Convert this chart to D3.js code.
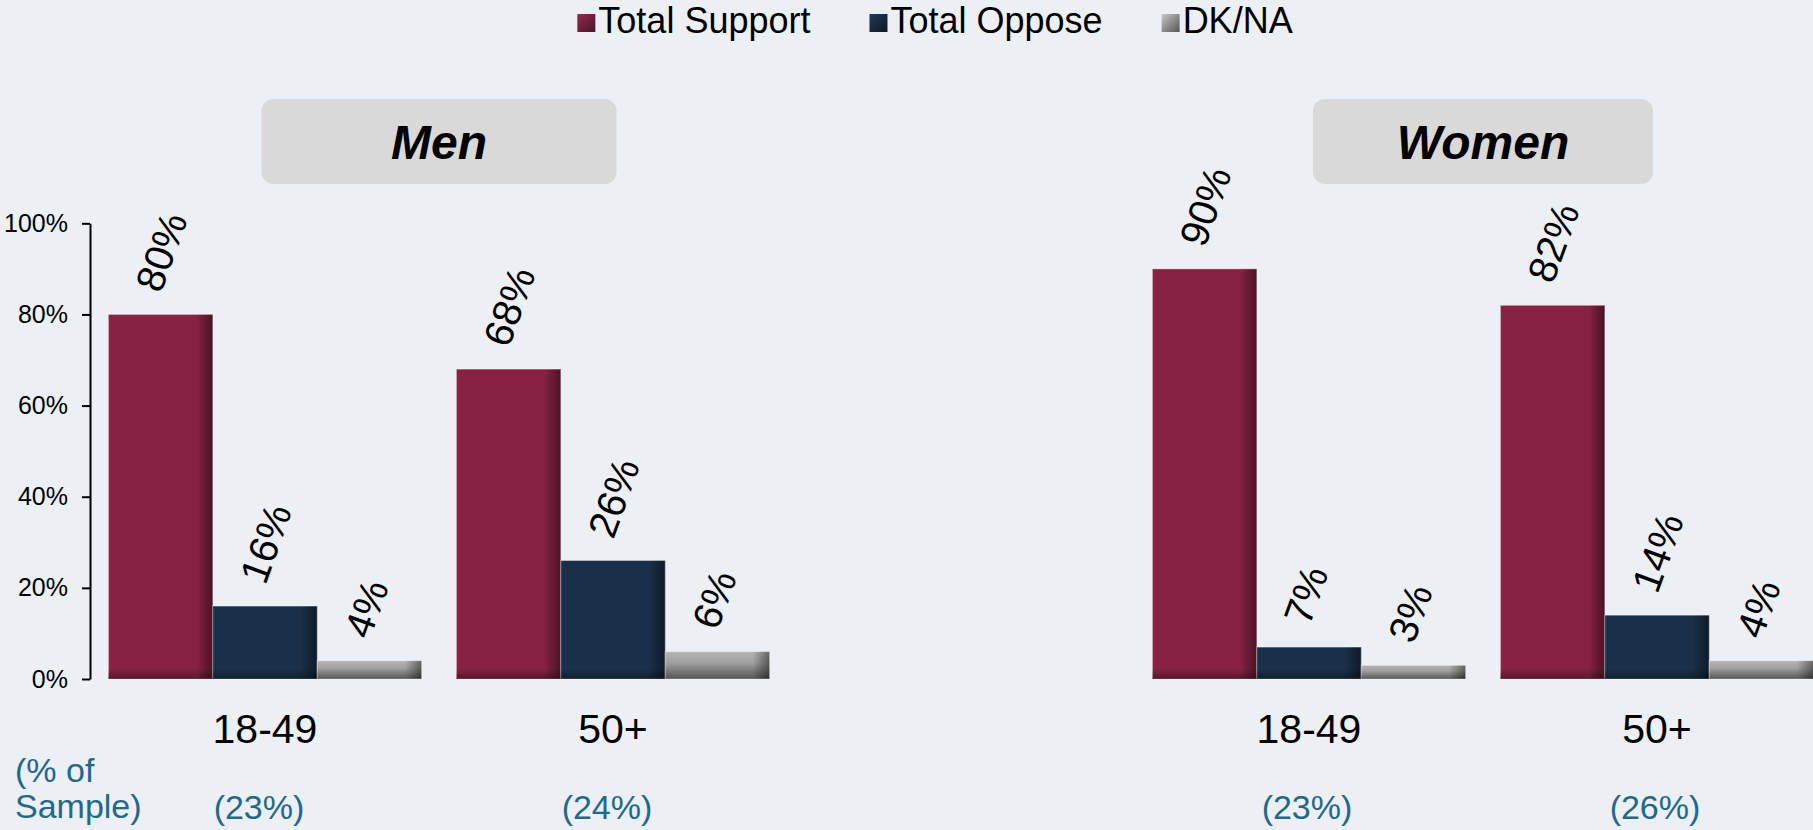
<!DOCTYPE html>
<meta charset="utf-8">
<script src="https://d3js.org/d3.v7.min.js"></script>
<style>
  body { margin: 0; background: #eceff4; }
  svg { display: block; font-family: "Liberation Sans", Arial, sans-serif; }
</style>
<body>
<div id="my_dataviz"></div>
<script>

// set the dimensions of the graph
var width = 1813,
    height = 830

// data
var panelNames = ["Men", "Women"]
var ageGroups = ["18-49", "50+"]
var seriesNames = ["Total Support", "Total Oppose", "DK/NA"]
var menSupport = [80, 68]
var menOppose = [16, 26]
var menDkna = [4, 6]
var womenSupport = [90, 82]
var womenOppose = [7, 14]
var womenDkna = [3, 4]
var menSample = ["(23%)", "(24%)"]
var womenSample = ["(23%)", "(26%)"]
var yTicks = [0, 20, 40, 60, 80, 100]

// one entry per panel, built from the arrays above
var panels = [
  { name: panelNames[0], values: [menSupport, menOppose, menDkna], sample: menSample,
    range: [91, 787], boxWidth: 355, axis: true },
  { name: panelNames[1], values: [womenSupport, womenOppose, womenDkna], sample: womenSample,
    range: [1135, 1831], boxWidth: 340, axis: false }
]

var fillColors = ["#872245", "#1a3049", "url(#gradDk)"]
var textColor = "#000"
var sampleColor = "#1f6a8a"

var svg = d3.select("#my_dataviz")
  .append("svg")
    .attr("width", width)
    .attr("height", height)

// gradients for the shaded bars
var defs = svg.append("defs")

var gDk = defs.append("linearGradient").attr("id", "gradDk")
  .attr("x1", 0).attr("y1", 0).attr("x2", 0).attr("y2", 1)
gDk.append("stop").attr("offset", "0%").attr("stop-color", "#b5b5b5")
gDk.append("stop").attr("offset", "40%").attr("stop-color", "#a0a0a0")
gDk.append("stop").attr("offset", "100%").attr("stop-color", "#555555")

var gRight = defs.append("linearGradient").attr("id", "shadeRight")
  .attr("x1", 0).attr("y1", 0).attr("x2", 1).attr("y2", 0)
gRight.append("stop").attr("offset", "0%").attr("stop-color", "#000").attr("stop-opacity", 0)
gRight.append("stop").attr("offset", "84%").attr("stop-color", "#000").attr("stop-opacity", 0)
gRight.append("stop").attr("offset", "100%").attr("stop-color", "#000").attr("stop-opacity", 0.45)

var gBottom = defs.append("linearGradient").attr("id", "shadeBottom")
  .attr("x1", 0).attr("y1", 0).attr("x2", 0).attr("y2", 1)
gBottom.append("stop").attr("offset", "0%").attr("stop-color", "#000").attr("stop-opacity", 0)
gBottom.append("stop").attr("offset", "100%").attr("stop-color", "#000").attr("stop-opacity", 0.35)

var legendGrads = [["#962a52", "#4c1328"], ["#223a57", "#0b1726"], ["#c8c8c8", "#555555"]]
legendGrads.forEach(function(c, i) {
  var g = defs.append("linearGradient").attr("id", "legGrad" + i)
    .attr("x1", 0).attr("y1", 0).attr("x2", 1).attr("y2", 1)
  g.append("stop").attr("offset", "0%").attr("stop-color", c[0])
  g.append("stop").attr("offset", "100%").attr("stop-color", c[1])
})

// y scale shared by both panels
var y = d3.scaleLinear()
  .domain([0, 100])
  .range([679, 223.3])

panels.forEach(function(p) {

  var x0 = d3.scaleBand()
    .domain(ageGroups)
    .range(p.range)
    .paddingInner(0.1)
    .paddingOuter(0.05)

  var x1 = d3.scaleBand()
    .domain(seriesNames)
    .range([0, x0.bandwidth()])

  var panel = svg.append("g")

  // y axis (left panel only)
  if (p.axis) {
    var ax = panel.append("g")
      .attr("transform", "translate(" + (p.range[0] - 1) + ",0)")
      .call(d3.axisLeft(y)
        .tickValues(yTicks)
        .tickFormat(function(d) { return d + "%" })
        .tickSize(8)
        .tickSizeOuter(0)
        .tickPadding(14))
    ax.select(".domain").attr("stroke", "#000").attr("stroke-width", 2)
    ax.selectAll(".tick line").attr("stroke", "#000").attr("stroke-width", 2)
    ax.selectAll(".tick text")
      .attr("fill", textColor)
      .style("font-size", "25px")
      .style("font-family", "'Liberation Sans', Arial, sans-serif")
  }

  // title box
  var cx = (x0(ageGroups[0]) + x0(ageGroups[1]) + x0.bandwidth()) / 2
  panel.append("rect")
    .attr("x", cx - p.boxWidth / 2)
    .attr("y", 99)
    .attr("width", p.boxWidth)
    .attr("height", 85)
    .attr("rx", 12)
    .attr("fill", "#d9d9d9")
  panel.append("text")
    .attr("x", cx)
    .attr("y", 159)
    .attr("text-anchor", "middle")
    .style("font-size", "48px")
    .style("font-weight", "bold")
    .style("font-style", "italic")
    .attr("fill", textColor)
    .text(p.name)

  // bars
  ageGroups.forEach(function(age, ai) {
    var grp = panel.append("g")
      .attr("transform", "translate(" + x0(age) + ",0)")

    var bars = seriesNames.map(function(s, si) {
      return { series: s, idx: si, value: p.values[si][ai] }
    })

    var b = grp.selectAll("g.bar")
      .data(bars)
      .enter()
      .append("g")
        .attr("class", "bar")

    b.append("rect")
      .attr("x", function(d) { return x1(d.series) })
      .attr("y", function(d) { return y(d.value) })
      .attr("width", x1.bandwidth())
      .attr("height", function(d) { return y(0) - y(d.value) })
      .attr("fill", function(d) { return fillColors[d.idx] })
    b.append("rect")
      .attr("x", function(d) { return x1(d.series) })
      .attr("y", function(d) { return y(d.value) })
      .attr("width", x1.bandwidth())
      .attr("height", function(d) { return y(0) - y(d.value) })
      .attr("fill", "url(#shadeRight)")
      .attr("stroke", "#ffffff")
      .attr("stroke-opacity", 0.35)
      .attr("stroke-width", 1)
    b.filter(function(d) { return d.idx < 2 })
      .append("rect")
      .attr("x", function(d) { return x1(d.series) })
      .attr("y", function(d) { return y(0) - Math.min(10, y(0) - y(d.value)) })
      .attr("width", x1.bandwidth())
      .attr("height", function(d) { return Math.min(10, y(0) - y(d.value)) })
      .attr("fill", "url(#shadeBottom)")

    // rotated value labels
    b.append("text")
      .attr("transform", function(d) {
        return "translate(" + (x1(d.series) + x1.bandwidth() / 2 - 13) + "," + (y(d.value) - 25) + ") rotate(-70)"
      })
      .attr("dominant-baseline", "central")
      .style("font-size", "40px")
      .attr("fill", textColor)
      .text(function(d) { return d.value + "%" })

    // category label
    grp.append("text")
      .attr("x", x0.bandwidth() / 2)
      .attr("y", 743)
      .attr("text-anchor", "middle")
      .style("font-size", "41px")
      .attr("fill", textColor)
      .text(age)

    // share of sample
    grp.append("text")
      .attr("x", x0.bandwidth() / 2 - (p.axis ? 6 : 2))
      .attr("y", 819)
      .attr("text-anchor", "middle")
      .style("font-size", "34px")
      .attr("fill", sampleColor)
      .text(p.sample[ai])
  })
})

// "(% of Sample)" caption
svg.append("text")
  .attr("x", 15)
  .attr("y", 782)
  .style("font-size", "34px")
  .attr("fill", sampleColor)
  .text("(% of")
svg.append("text")
  .attr("x", 15)
  .attr("y", 818)
  .style("font-size", "34px")
  .attr("fill", sampleColor)
  .text("Sample)")

// legend
var legend = svg.append("g")
var lx = 0
seriesNames.forEach(function(s, i) {
  var item = legend.append("g").attr("transform", "translate(" + lx + ",0)")
  item.append("rect")
    .attr("x", 0).attr("y", 14)
    .attr("width", 18).attr("height", 18)
    .attr("fill", "url(#legGrad" + i + ")")
  var t = item.append("text")
    .attr("x", 21)
    .attr("y", 33)
    .style("font-size", "36px")
    .attr("fill", textColor)
    .text(s)
  lx += 21 + t.node().getComputedTextLength() + 59
})
var legW = lx - 59
legend.attr("transform", "translate(" + (935 - legW / 2) + ",0)")

</script>
</body>
